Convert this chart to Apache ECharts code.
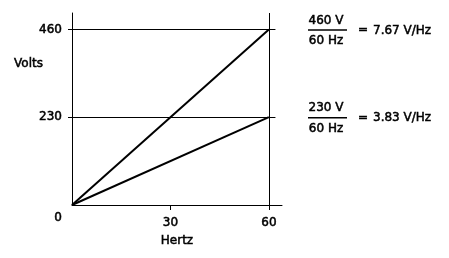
<!DOCTYPE html>
<html>
<head>
<meta charset="utf-8">
<script src="https://cdn.jsdelivr.net/npm/echarts@6/dist/echarts.min.js"></script>
<style>
html,body{margin:0;padding:0;background:#fff;}
#c{width:449px;height:258px;}
</style>
</head>
<body>
<div id="c"></div>
<script>
// Data
const hertz = [0, 60];
const volts460 = [0, 460];
const volts230 = [0, 230];
const xTickValues = [30, 60];
const xLabelValues = [30, 60];
const yTickValues = [230, 460];
const yLabelValues = [0, 230, 460];
const gridLevels = [460, 230];
const numerators = ['460 V', '230 V'];
const denominators = ['60 Hz', '60 Hz'];
const results = ['7.67 V/Hz', '3.83 V/Hz'];
const xMax = 64, yMax = 503, refFreq = 60, gridEnd = 62;

const FONT = 'DejaVu Sans';
const TB = {textBorderColor: '#000', textBorderWidth: 0.5};
const chart = echarts.init(document.getElementById('c'), null, {renderer: 'canvas'});

const markData = gridLevels.map(v => [{coord: [0, v]}, {coord: [gridEnd, v]}]);
markData.push([{coord: [refFreq, 0]}, {coord: [refFreq, yMax]}]);

const option = {
  animation: false,
  backgroundColor: '#fff',
  grid: {left: 72, right: 167, top: 13, bottom: 53, containLabel: false},
  xAxis: {
    type: 'value', min: 0, max: xMax,
    name: 'Hertz', nameLocation: 'middle', nameGap: 29,
    nameTextStyle: Object.assign({fontFamily: FONT, fontSize: 12, color: '#000'}, TB),
    axisLine: {show: true, lineStyle: {color: '#000', width: 1}},
    axisTick: {show: true, customValues: xTickValues, length: 5, lineStyle: {color: '#000', width: 1}},
    axisLabel: Object.assign({show: true, customValues: xLabelValues, margin: 12, fontFamily: FONT, fontSize: 12, color: '#000'}, TB),
    splitLine: {show: false}
  },
  yAxis: {
    type: 'value', min: 0, max: yMax,
    name: 'Volts', nameLocation: 'end', nameGap: -57, nameRotate: 0,
    nameTextStyle: Object.assign({fontFamily: FONT, fontSize: 12, color: '#000', align: 'right', padding: [0, 29, 0, 0]}, TB),
    axisLine: {show: true, lineStyle: {color: '#000', width: 1}},
    axisTick: {show: true, customValues: yTickValues, length: 4, lineStyle: {color: '#000', width: 1}},
    axisLabel: Object.assign({
      show: true, customValues: yLabelValues, margin: 10, fontFamily: FONT, fontSize: 12, color: '#000',
      formatter: v => v === 0 ? '{z|0}' : String(v),
      rich: {z: Object.assign({fontFamily: FONT, fontSize: 12, color: '#000', padding: [25, 0, 0, 0]}, TB)}
    }, TB),
    splitLine: {show: false}
  },
  series: [
    {
      type: 'line', data: hertz.map((h, i) => [h, volts460[i]]), symbol: 'none',
      lineStyle: {color: '#000', width: 2}, silent: true,
      markLine: {
        silent: true, symbol: 'none', label: {show: false},
        lineStyle: {color: '#000', width: 1, type: 'solid'},
        emphasis: {disabled: true},
        data: markData
      }
    },
    {
      type: 'line', data: hertz.map((h, i) => [h, volts230[i]]), symbol: 'none',
      lineStyle: {color: '#000', width: 2}, silent: true
    }
  ]
};
chart.setOption(option);

// Ratio annotations at the level of each grid line
const graphics = [];
gridLevels.forEach((v, i) => {
  const y = chart.convertToPixel({gridIndex: 0}, [0, v])[1] + 0.5;
  const txt = (s, x, yy, align) => ({
    type: 'text', x: x, y: yy,
    style: {text: s, fontFamily: FONT, fontSize: 12, fill: '#000', stroke: '#000', lineWidth: 0.5, align: align, verticalAlign: 'middle'}
  });
  graphics.push(txt(numerators[i], 326, y - 9.5, 'center'));
  graphics.push({type: 'line', shape: {x1: 308, y1: y, x2: 347, y2: y}, style: {stroke: '#000', lineWidth: 1.5}});
  graphics.push(txt(denominators[i], 326, y + 11, 'center'));
  graphics.push(txt('=', 363, y, 'center'));
  graphics.push(txt(results[i], 373, y + 0.5, 'left'));
});
chart.setOption({graphic: graphics});
</script>
</body>
</html>
